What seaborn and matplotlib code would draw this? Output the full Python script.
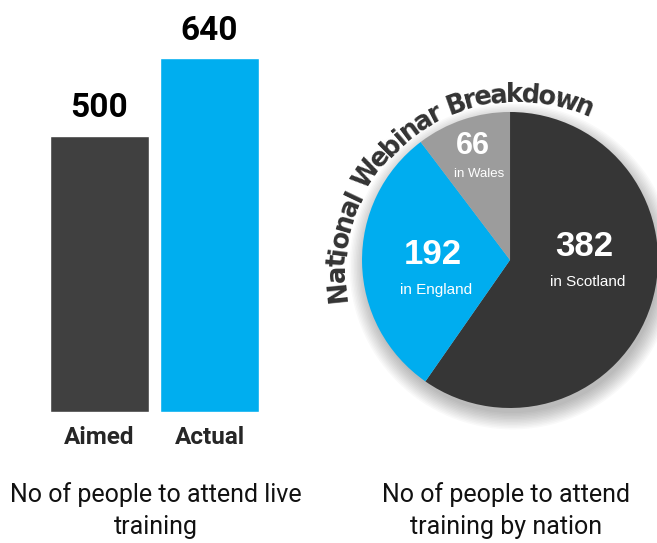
import numpy as np
import pandas as pd
import seaborn as sns
import matplotlib.pyplot as plt
from matplotlib.patches import Circle
from matplotlib.font_manager import FontProperties, findfont
from matplotlib.ft2font import FT2Font

# data
bar_labels = ['Aimed', 'Actual']
bar_values = [500, 640]
bar_colors = ['#404040', '#00aeef']

nations = ['Scotland', 'England', 'Wales']
nation_values = [382, 192, 66]
nation_colors = ['#363636', '#00adef', '#9c9c9c']

arc_title = 'National Webinar Breakdown'
left_caption = 'No of people to attend live\ntraining'
right_caption = 'No of people to attend\ntraining by nation'

sns.set_style('white')
plt.rcParams['font.family'] = ['Roboto', 'DejaVu Sans']

fig = plt.figure(figsize=(6.57, 5.43), dpi=100)

# ---- bars ----
ax1 = fig.add_axes([0.0677, 0.2413, 0.3349, 0.7127])
df = pd.DataFrame({'label': bar_labels, 'value': bar_values})
sns.barplot(data=df, x='label', y='value', hue='label', palette=bar_colors,
            width=0.9, legend=False, ax=ax1, saturation=1)
ax1.set_xlim(-0.5, 1.5)
ax1.set_ylim(0, 700)
ax1.set_xlabel('')
ax1.set_ylabel('')
ax1.set_yticks([])
ax1.tick_params(axis='x', length=0, pad=10)
for lab in ax1.get_xticklabels():
    lab.set_fontsize(17.5)
    lab.set_fontweight('bold')
for c in ax1.containers:
    ax1.bar_label(c, fontsize=24, fontweight='bold', padding=8, color='black')
sns.despine(ax=ax1, left=True, bottom=True)

# ---- pie ----
ax2 = fig.add_axes([0.4947, 0.1805, 0.5632, 0.6814])
ax2.set_xlim(-1.25, 1.25)
ax2.set_ylim(-1.25, 1.25)
ax2.set_aspect('equal')
ax2.axis('off')

# soft shadow under the pie
for k in range(12):
    ax2.add_patch(Circle((0.015, -0.045), 0.99 + k * 0.01, color='black',
                         alpha=0.022, lw=0, zorder=0))

wedges, _ = ax2.pie(nation_values, colors=nation_colors, startangle=90,
                    counterclock=False, radius=1.0,
                    wedgeprops=dict(linewidth=0))
for w in wedges:
    w.set_zorder(2)

# labels inside wedges (positions in pie units)
label_pos = {
    'Scotland': ((0.50, 0.09), (0.527, -0.15), 25, 11),
    'England': ((-0.52, 0.035), (-0.50, -0.20), 25, 11),
    'Wales': ((-0.25, 0.77), (-0.21, 0.58), 22, 9.5),
}
for name, val in zip(nations, nation_values):
    (nx, ny), (sx, sy), fs_num, fs_sub = label_pos[name]
    ax2.text(nx, ny, str(val), color='white', fontsize=fs_num, fontweight='bold',
             ha='center', va='center', family='Liberation Sans', zorder=5)
    ax2.text(sx, sy, 'in ' + name, color='white', fontsize=fs_sub,
             ha='center', va='center', family='Liberation Sans', zorder=5)

# curved title along an arc
def arc_text(ax, s, cx, cy, r_px, px_per_unit, start_deg, end_deg, fontsize):
    prop = FontProperties(family='DejaVu Sans', weight='bold', size=fontsize)
    font = FT2Font(findfont(prop))
    font.set_size(fontsize, 100)
    adv = []
    for ch in s:
        g = font.load_char(ord(ch))
        adv.append(g.linearHoriAdvance / 65536)
    adv = np.array(adv)
    arc_len = np.deg2rad(start_deg - end_deg) * r_px
    adv = adv * arc_len / adv.sum()
    mids = np.cumsum(adv) - adv / 2
    r = r_px / px_per_unit
    for ch, m in zip(s, mids):
        th = np.deg2rad(start_deg) - m / r_px
        ax.text(cx + r * np.cos(th), cy + r * np.sin(th), ch,
                rotation=np.rad2deg(th) - 90, rotation_mode='anchor',
                ha='center', va='baseline', fontsize=fontsize,
                fontweight='bold', family='DejaVu Sans', color='#333333',
                zorder=6)

arc_text(ax2, arc_title, 0.04, -0.088, 171, 148, 189, 65, 18.5)

# captions
fig.text(0.2374, 0.113, left_caption, ha='center', va='top', fontsize=18,
         linespacing=1.45, color='#111111')
fig.text(0.770, 0.113, right_caption, ha='center', va='top', fontsize=18,
         linespacing=1.45, color='#111111')

fig.savefig('out.png', dpi=100)
